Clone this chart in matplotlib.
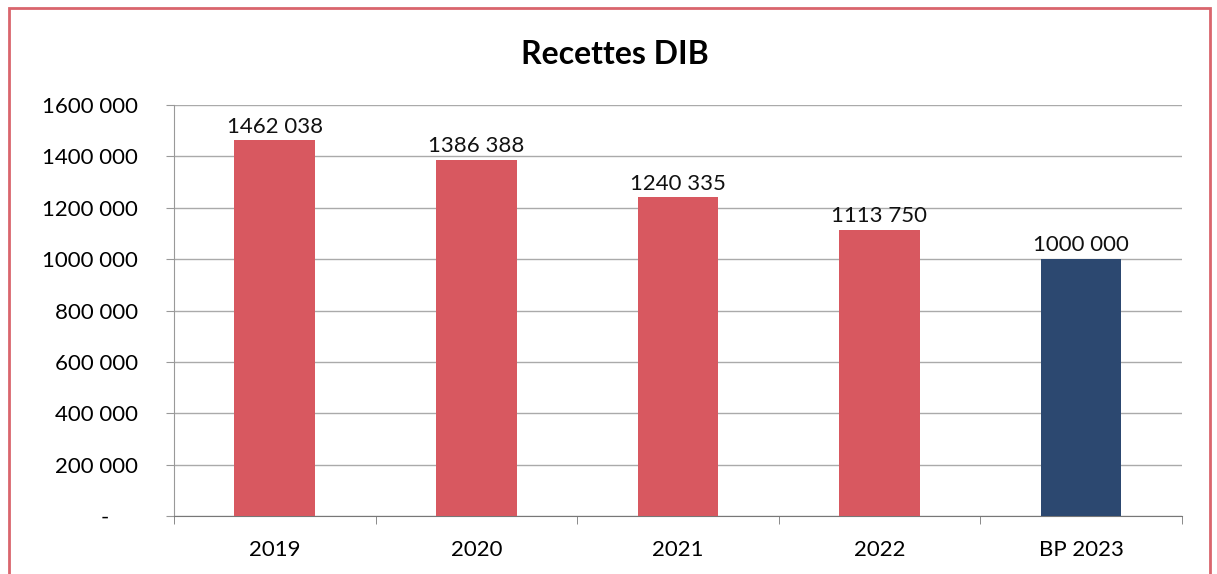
import matplotlib.pyplot as plt
from matplotlib.patches import Rectangle
from matplotlib.ticker import FuncFormatter, FixedLocator

# données du graphique
annees = ["2019", "2020", "2021", "2022", "BP 2023"]
recettes = [1462038, 1386388, 1240335, 1113750, 1000000]
couleurs = ["#D85860", "#D85860", "#D85860", "#D85860", "#2C4870"]

plt.rcParams['font.family'] = ['Lato', 'DejaVu Sans']


def espace(v):
    # format "1462 038" (seuls les milliers sont séparés)
    v = int(round(v))
    if v == 0:
        return "-     "
    return f"{v // 1000} {v % 1000:03d}"


fig = plt.figure(figsize=(12.17, 5.74), dpi=100)
ax = fig.add_axes([0.143, 0.101, 0.828, 0.716])

x = range(len(annees))
ax.bar(x, recettes, width=0.4, color=couleurs, zorder=3)

for i, v in enumerate(recettes):
    ax.text(i, v + 15000, espace(v), ha='center', va='bottom', fontsize=16, color='#111111')

ax.set_xlim(-0.5, len(annees) - 0.5)
ax.set_ylim(0, 1600000)
ax.set_yticks(range(0, 1600001, 200000))
ax.yaxis.set_major_formatter(FuncFormatter(lambda v, p: espace(v)))
ax.set_xticks(list(x))
ax.set_xticklabels(annees)
ax.xaxis.set_minor_locator(FixedLocator([i + 0.5 for i in range(-1, len(annees))]))
ax.tick_params(axis='x', which='major', length=0, pad=17, labelsize=16)
ax.tick_params(axis='x', which='minor', length=6, color='#777777')
ax.tick_params(axis='y', length=6, color='#999999', labelsize=16, pad=20)

ax.grid(axis='y', color='#AAAAAA', linewidth=1, zorder=0)
for s in ['top', 'right']:
    ax.spines[s].set_visible(False)
ax.spines['left'].set_color('#999999')
ax.spines['bottom'].set_color('#777777')

fig.text(0.505, 0.905, "Recettes DIB", ha='center', va='center', fontsize=23, fontweight='bold')

# cadre rouge
fig.patches.append(Rectangle((0.007, -0.02), 0.987, 1.006, transform=fig.transFigure,
                             fill=False, edgecolor='#D9656D', linewidth=2))

fig.savefig("out.png", dpi=100)
